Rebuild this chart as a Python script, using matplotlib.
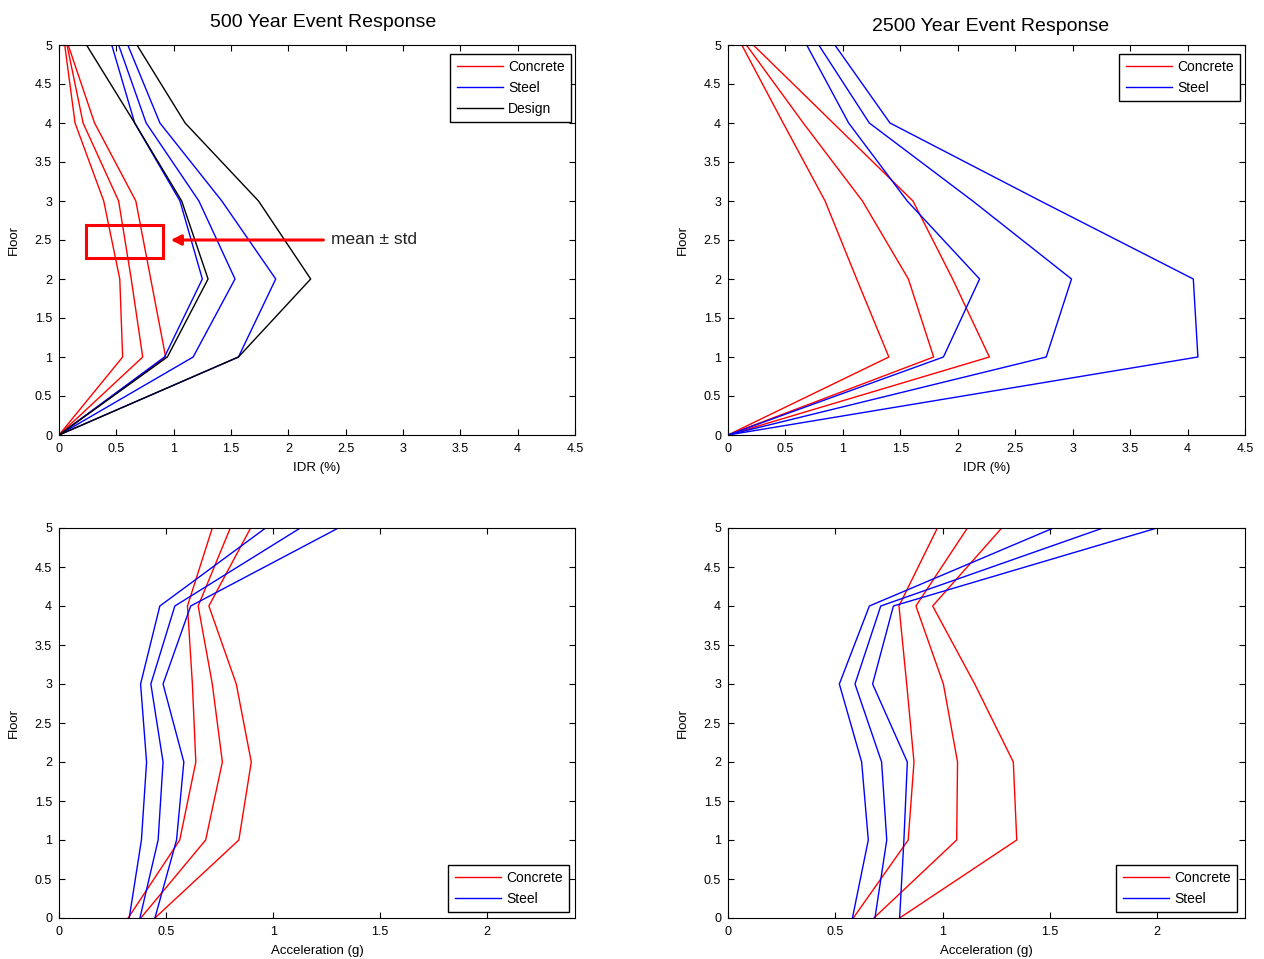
import numpy as np
import matplotlib
matplotlib.use("Agg")
import matplotlib.pyplot as plt
from matplotlib.ticker import FuncFormatter
from matplotlib.patches import Rectangle

plt.rcParams['font.family'] = ['Liberation Sans', 'DejaVu Sans']

floors = [0, 1, 2, 3, 4, 5]

# 500 year event, inter-storey drift ratio (%) : mean-std, mean, mean+std
idr500_conc = [[0, 0.555, 0.53, 0.39, 0.14, 0.05],
               [0, 0.73, 0.63, 0.52, 0.21, 0.07],
               [0, 0.93, 0.80, 0.67, 0.31, 0.08]]
idr500_steel = [[0, 0.92, 1.25, 1.055, 0.66, 0.46],
                [0, 1.17, 1.535, 1.22, 0.76, 0.52],
                [0, 1.565, 1.89, 1.42, 0.88, 0.60]]
idr500_design = [[0, 0.945, 1.30, 1.07, 0.66, 0.24],
                 [0, 1.565, 2.195, 1.74, 1.10, 0.68]]

# 2500 year event, IDR (%)
idr2500_conc = [[0, 1.40, 1.12, 0.845, 0.48, 0.12],
                [0, 1.79, 1.57, 1.17, 0.655, 0.16],
                [0, 2.275, 1.955, 1.61, 0.915, 0.22]]
idr2500_steel = [[0, 1.875, 2.19, 1.56, 1.05, 0.685],
                 [0, 2.77, 2.99, 2.13, 1.23, 0.79],
                 [0, 4.09, 4.05, 2.72, 1.41, 0.93]]

# floor accelerations (g)
acc500_conc = [[0.323, 0.564, 0.639, 0.623, 0.60, 0.716],
               [0.382, 0.685, 0.763, 0.716, 0.65, 0.80],
               [0.448, 0.84, 0.898, 0.828, 0.70, 0.895]]
acc500_steel = [[0.328, 0.385, 0.409, 0.381, 0.471, 0.965],
                [0.378, 0.463, 0.486, 0.429, 0.541, 1.127],
                [0.448, 0.549, 0.583, 0.486, 0.615, 1.305]]
acc2500_conc = [[0.584, 0.84, 0.867, 0.833, 0.797, 0.976],
                [0.68, 1.066, 1.07, 1.004, 0.876, 1.116],
                [0.80, 1.346, 1.33, 1.15, 0.954, 1.276]]
acc2500_steel = [[0.58, 0.654, 0.623, 0.519, 0.659, 1.517],
                 [0.685, 0.74, 0.716, 0.592, 0.712, 1.748],
                 [0.80, 0.82, 0.836, 0.674, 0.771, 2.0]]

fig = plt.figure(figsize=(12.64, 9.59), dpi=100)
W, H = 1264.0, 959.0


def make_ax(l, t, r, b):
    return fig.add_axes([l / W, 1 - b / H, (r - l) / W, (b - t) / H])


fmt = FuncFormatter(lambda v, p: '%g' % v)


def style(ax, xmax, xticks, xlabel):
    ax.set_xlim(0, xmax)
    ax.set_ylim(0, 5)
    ax.set_xticks(xticks)
    ax.set_yticks(np.arange(0, 5.01, 0.5))
    ax.xaxis.set_major_formatter(fmt)
    ax.yaxis.set_major_formatter(fmt)
    ax.tick_params(direction='in', top=True, right=True, labelsize=9, length=4)
    ax.tick_params(axis='x', pad=5.5)
    ax.tick_params(axis='y', pad=5)
    ax.set_xlabel(xlabel, fontsize=9.5, labelpad=5)
    ax.set_ylabel('Floor', fontsize=9.5, labelpad=11)
    for s in ax.spines.values():
        s.set_linewidth(0.8)


def draw(ax, sets, colors):
    handles = []
    for lines, c in zip(sets, colors):
        for i, xs in enumerate(lines):
            h, = ax.plot(xs, floors, color=c, lw=1.0)
            if i == 0:
                handles.append(h)
    return handles


def legend(ax, h, names, loc, anchor):
    ax.legend(h, names, loc=loc, bbox_to_anchor=anchor, borderaxespad=0,
              fontsize=10, fancybox=False, edgecolor='black', framealpha=1,
              handlelength=3.3, handletextpad=0.4, labelspacing=0.5, borderpad=0.45)


ax1 = make_ax(59, 45, 575, 435)
ax2 = make_ax(728, 45, 1245, 435)
ax3 = make_ax(59, 528, 575, 918)
ax4 = make_ax(728, 528, 1245, 918)

idr_ticks = np.arange(0, 4.51, 0.5)
acc_ticks = [0, 0.5, 1, 1.5, 2]

h = draw(ax1, [idr500_conc, idr500_steel, idr500_design], ['red', 'blue', 'black'])
style(ax1, 4.5, idr_ticks, 'IDR (%)')
legend(ax1, h, ['Concrete', 'Steel', 'Design'], 'upper right', (1 - 4 / 516, 1 - 9 / 390))
ax1.set_title('500 Year Event Response', fontsize=14, pad=13, x=0.512)
ax1.add_patch(Rectangle((0.235, 2.265), 0.675, 0.425, fill=False, edgecolor='red', lw=2.2))
ax1.annotate('', xy=(0.95, 2.5), xytext=(2.33, 2.5),
             arrowprops=dict(arrowstyle='-|>,head_length=0.6,head_width=0.3', color='red', lw=2.2))
ax1.text(2.37, 2.5, 'mean \u00b1 std', color='#222222', fontsize=12.5, va='center', ha='left')

h = draw(ax2, [idr2500_conc, idr2500_steel], ['red', 'blue'])
style(ax2, 4.5, idr_ticks, 'IDR (%)')
legend(ax2, h, ['Concrete', 'Steel'], 'upper right', (1 - 5 / 517, 1 - 9 / 390))
ax2.set_title('2500 Year Event Response', fontsize=14, pad=10, x=0.507)

h = draw(ax3, [acc500_conc, acc500_steel], ['red', 'blue'])
style(ax3, 2.41, acc_ticks, 'Acceleration (g)')
legend(ax3, h, ['Concrete', 'Steel'], 'lower right', (1 - 6 / 516, 6 / 390))

h = draw(ax4, [acc2500_conc, acc2500_steel], ['red', 'blue'])
style(ax4, 2.41, acc_ticks, 'Acceleration (g)')
legend(ax4, h, ['Concrete', 'Steel'], 'lower right', (1 - 8 / 517, 6 / 390))

fig.savefig('out.png', dpi=100)
